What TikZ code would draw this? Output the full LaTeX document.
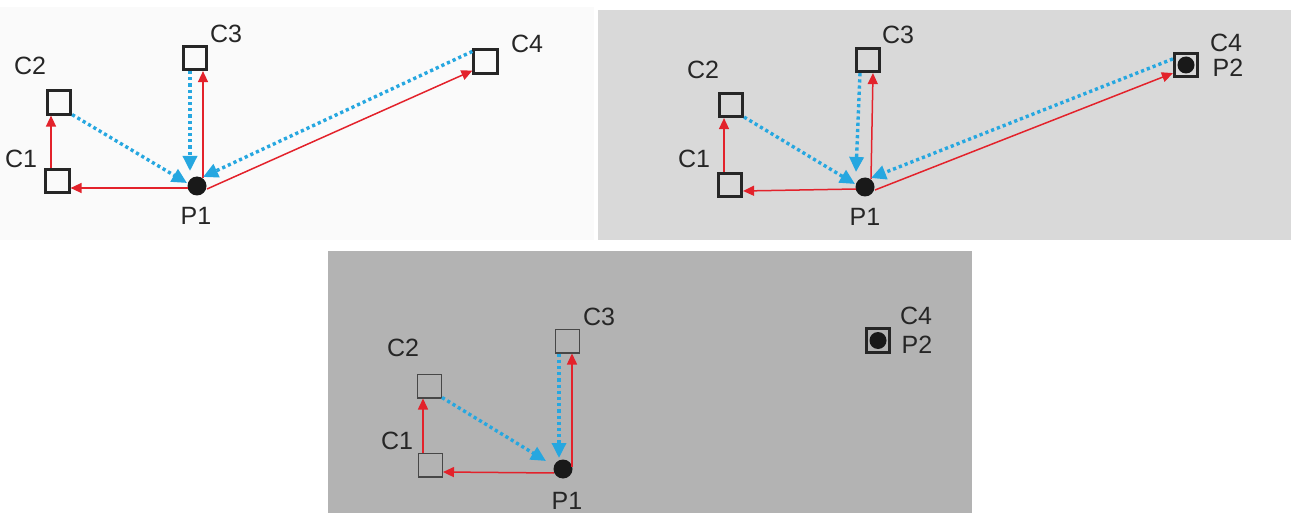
\documentclass[tikz,border=0pt]{standalone}
\usepackage{fontspec}
\setmainfont{Liberation Sans}
\usetikzlibrary{arrows.meta,calc}
\definecolor{linkred}{HTML}{E3222B}
\definecolor{linkblue}{HTML}{26A7E0}
\definecolor{panelA}{HTML}{FAFAFA}
\definecolor{panelB}{HTML}{D9D9D9}
\definecolor{panelC}{HTML}{B3B3B3}
\begin{document}
\begin{tikzpicture}[x=1pt,y=-1pt,
  cell/.style={draw=black!85, line width=2.7pt, minimum size=23.5pt, inner sep=0pt},
  thincell/.style={draw=black!72, line width=1.3pt, minimum size=23.7pt, inner sep=0pt},
  spot/.style={circle, fill=black!90, minimum size=19pt, inner sep=0pt},
  spotin/.style={circle, fill=black!90, minimum size=17pt, inner sep=0pt},
  lbl/.style={font=\fontsize{25}{25}\selectfont, inner sep=0pt, text=black!85},
  fwd/.style={linkred, line width=1.5pt, -{Triangle[length=11pt,width=10pt]}},
  back/.style={linkblue, line width=3.4pt, dash pattern=on 3.2pt off 3pt,
    -{Triangle[length=15pt,width=14pt]}}
]
\useasboundingbox (0,0) rectangle (1291,513);

% panel backgrounds
\fill[panelA] (0,7) rectangle (594,240);
\fill[panelB] (598,10) rectangle (1291,240);
\fill[panelC] (328,251) rectangle (972,513);

% ---------------- first panel ----------------
\node[cell] (a1) at (57.5,181) {};
\node[cell] (a2) at (59,102.5) {};
\node[cell] (a3) at (195,58) {};
\node[cell] (a4) at (485.5,61.5) {};
\node[spot] (ap) at (197,186) {};
\node[lbl] (la1) at (21,159) {C1};
\node[lbl] (la2) at (30,66) {C2};
\node[lbl] (la3) at (226,33.5) {C3};
\node[lbl] (la4) at (527,43.5) {C4};
\node[lbl] (lap) at (196,216) {P1};

\draw[fwd] ($(ap)+(-9,2)$) -- ($(a1.east)+(0,7)$);
\draw[fwd] ($(a1.north)+(-6.5,0)$) -- ($(a2.south)+(-8,0)$);
\draw[fwd] ($(ap)+(6,-8)$) -- ($(a3.south)+(8,0)$);
\draw[fwd] ($(ap)+(10,3)$) -- ($(a4.south west)+(0,-4)$);
\draw[back] ($(a3.south)+(-5,0)$) -- ($(ap)+(-7,-15)$);
\draw[back] ($(a2.south east)+(0,-1)$) -- ($(ap)+(-10,-3)$);
\draw[back] ($(a4.north west)+(0,3)$) -- ($(ap)+(6,-9)$);

% ---------------- second panel ----------------
\node[cell] (b1) at (730,185) {};
\node[cell] (b2) at (731,105) {};
\node[cell] (b3) at (868,60) {};
\node[cell] (b4) at (1186,65) {};
\node[spotin] (bq) at (b4) {};
\node[spot] (bp) at (865,187) {};
\node[lbl] (lb1) at (694,159) {C1};
\node[lbl] (lb2) at (703,70) {C2};
\node[lbl] (lb3) at (898,35) {C3};
\node[lbl] (lb4) at (1226,42.5) {C4};
\node[lbl] (lbq) at (1228,67.5) {P2};
\node[lbl] (lbp) at (865,217) {P1};

\draw[fwd] ($(bp)+(-9,2)$) -- ($(b1.east)+(0,6)$);
\draw[fwd] ($(b1.north)+(-6,0)$) -- ($(b2.south)+(-7,0)$);
\draw[fwd] ($(bp)+(6,-8)$) -- ($(b3.south)+(5,0)$);
\draw[fwd] ($(bp)+(10,3)$) -- ($(b4.south west)+(0,-5)$);
\draw[back] ($(b3.south)+(-8,0)$) -- ($(bp)+(-9,-15)$);
\draw[back] ($(b2.south east)+(0,-1)$) -- ($(bp)+(-10,-3)$);
\draw[back] ($(b4.north west)+(0,7)$) -- ($(bp)+(6,-9)$);

% ---------------- third panel ----------------
\node[thincell] (c1) at (430.5,465) {};
\node[thincell] (c2) at (429.5,386) {};
\node[thincell] (c3) at (567.5,341) {};
\node[cell] (c4) at (878,340.5) {};
\node[spotin] (cq) at (c4) {};
\node[spot] (cp) at (563,469) {};
\node[lbl] (lc1) at (397,441) {C1};
\node[lbl] (lc2) at (403,348) {C2};
\node[lbl] (lc3) at (599,317) {C3};
\node[lbl] (lc4) at (916,316) {C4};
\node[lbl] (lcq) at (917,344.5) {P2};
\node[lbl] (lcp) at (567,501) {P1};

\draw[fwd] ($(cp)+(-9,4)$) -- ($(c1.east)+(0,7)$);
\draw[fwd] ($(c1.north)+(-7.5,0)$) -- ($(c2.south)+(-6.5,0)$);
\draw[fwd] ($(cp)+(9,-2)$) -- ($(c3.south)+(4.5,0)$);
\draw[back] ($(c3.south)+(-8.5,0)$) -- ($(cp)+(-4,-11)$);
\draw[back] ($(c2.south east)+(0,-1)$) -- ($(cp)+(-17,-8)$);
\end{tikzpicture}
\end{document}
